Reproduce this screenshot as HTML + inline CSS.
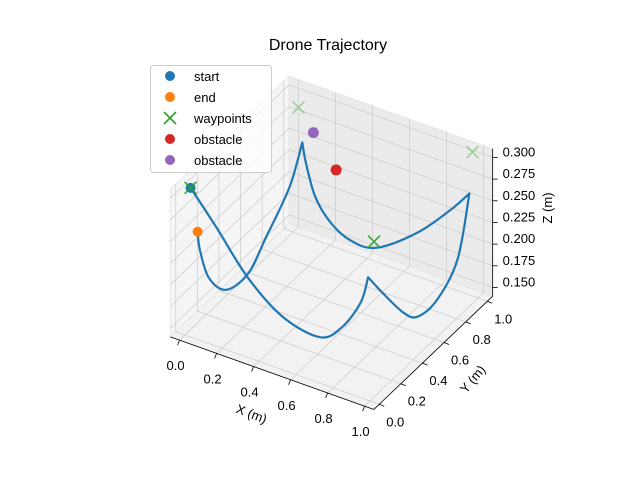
<!DOCTYPE html>
<html><head><meta charset="utf-8"><style>
html,body{margin:0;padding:0;background:#fff;}
svg text{font-family:"Liberation Sans","DejaVu Sans",sans-serif;fill:#000;}
</style></head><body>
<svg id="chart" width="640" height="480" viewBox="0 0 640 480" xmlns="http://www.w3.org/2000/svg">
<text x="328" y="50" text-anchor="middle" font-size="16">Drone Trajectory</text>
<g id="panes"></g><g id="grid"></g><g id="axes"></g><g id="series"></g><g id="markers"></g>
<text x="0" y="0" font-size="13" text-anchor="middle" transform="translate(250,418) rotate(21)">X (m)</text>
<text x="0" y="0" font-size="13" text-anchor="middle" transform="translate(476,382) rotate(-50)">Y (m)</text>
<text x="0" y="0" font-size="13" text-anchor="middle" transform="translate(552,208) rotate(-90)">Z (m)</text>
<g>
<rect x="150.5" y="65.5" width="121" height="107" rx="3" fill="#fff" fill-opacity="0.8" stroke="#ccc"/>
<circle cx="170" cy="76" r="5" fill="#1f77b4"/><text x="194" y="81" font-size="13">start</text>
<circle cx="170" cy="97" r="5" fill="#ff7f0e"/><text x="194" y="102" font-size="13">end</text>
<path d="M164,112 L176,124 M176,112 L164,124" stroke="#2ca02c" stroke-width="1.6"/><text x="194" y="123" font-size="13">waypoints</text>
<circle cx="170" cy="139" r="5" fill="#d62728"/><text x="194" y="144" font-size="13">obstacle</text>
<circle cx="170" cy="160" r="5" fill="#9467bd"/><text x="194" y="165" font-size="13">obstacle</text>
</g>
</svg>
<script>
const trajX=[0.03,0.17,0.34,0.53,0.73,0.85,0.95,0.99,1,1,1,1,1,1,0.85,0.67,0.45,0.31,0.20,0.12,0.07,0.05,0.04,0.03,0.02,0,0,0.01,0.01];
const trajY=[0,0,0,0,0,0,0,0,0.12,0.31,0.44,0.62,0.81,0.92,1,1,1,1,1,1,1,1,0.9,0.7,0.55,0.38,0.22,0.12,0.1];
const trajZ=[0.312,0.277,0.232,0.201,0.193,0.214,0.250,0.282,0.250,0.205,0.185,0.183,0.207,0.270,0.230,0.190,0.156,0.154,0.167,0.190,0.225,0.247,0.207,0.172,0.147,0.147,0.180,0.225,0.248];
const wpX=[0.03,0.73,0.03,0.97];
const wpY=[0,0.5,1,1];
const wpZ=[0.312,0.244,0.286,0.306];
const obsX=[0.35,0.11];
const obsY=[0.8,1];
const obsZ=[0.262,0.263];
const xTicks=[0,0.2,0.4,0.6,0.8,1.0];
const yTicks=[0,0.2,0.4,0.6,0.8,1.0];
const zTicks=[0.15,0.175,0.2,0.225,0.25,0.275,0.3];
const zTickLabels=["0.150","0.175","0.200","0.225","0.250","0.275","0.300"];
const cuspIdx=[7,13,21];
const X0=-0.05,X1=1.05,Y0=-0.05,Y1=1.05,Z0=0.14,Z1=0.31;
function P(x,y,z){return [185+185*x+108*y, 335+66*x-103*y-867*(z-0.14)];}
const NS='http://www.w3.org/2000/svg';
function mk(tag,attrs,parent){const e=document.createElementNS(NS,tag);for(const k in attrs)e.setAttribute(k,attrs[k]);document.getElementById(parent).appendChild(e);return e;}
function poly(pts){return pts.map(p=>p[0].toFixed(1)+','+p[1].toFixed(1)).join(' ');}
let e;
e=mk('polygon',{points:poly([P(X0,Y0,Z0),P(X1,Y0,Z0),P(X1,Y1,Z0),P(X0,Y1,Z0)]),fill:'#f2f2f2',stroke:'#e6e6e6'},'panes');

e=mk('polygon',{points:poly([P(X0,Y1,Z0),P(X1,Y1,Z0),P(X1,Y1,Z1),P(X0,Y1,Z1)]),fill:'#ebebeb',stroke:'#e6e6e6'},'panes');

e=mk('polygon',{points:poly([P(X0,Y0,Z0),P(X0,Y1,Z0),P(X0,Y1,Z1),P(X0,Y0,Z1)]),fill:'#f5f5f5',stroke:'#e6e6e6'},'panes');

function gl(a,b){const l=mk('line',{x1:a[0],y1:a[1],x2:b[0],y2:b[1],stroke:'#cfcfcf','stroke-width':0.8},'grid');

}
xTicks.forEach(x=>{gl(P(x,Y0,Z0),P(x,Y1,Z0));gl(P(x,Y1,Z0),P(x,Y1,Z1));});
yTicks.forEach(y=>{gl(P(X0,y,Z0),P(X1,y,Z0));gl(P(X0,y,Z0),P(X0,y,Z1));});
zTicks.forEach(z=>{gl(P(X0,Y1,z),P(X1,Y1,z));gl(P(X0,Y0,z),P(X0,Y1,z));});
function al(a,b,n){const l=mk('line',{x1:a[0],y1:a[1],x2:b[0],y2:b[1],stroke:'#000','stroke-width':0.8},'axes');

}
al(P(X0,Y0,Z0),P(X1,Y0,Z0),'x-axis-line');
al(P(X1,Y0,Z0),P(X1,Y1,Z0),'y-axis-line');
al(P(X1,Y1,Z0),P(X1,Y1,Z1),'z-axis-line');
xTicks.forEach(x=>{const p=P(x,Y0,Z0);
al([p[0],p[1]],[p[0]-2,p[1]+5],'x-tick');
const t=mk('text',{x:p[0]-4,y:p[1]+30,'font-size':13,'text-anchor':'middle'},'axes');t.textContent=x.toFixed(1);

});
yTicks.forEach(y=>{const p=P(X1,y,Z0);
al([p[0],p[1]],[p[0]+5,p[1]+2],'y-tick');
const t=mk('text',{x:p[0]+16,y:p[1]+22,'font-size':13,'text-anchor':'middle'},'axes');t.textContent=y.toFixed(1);

});
zTicks.forEach((z,i)=>{const p=P(X1,Y1,z);
al([p[0],p[1]],[p[0]+5,p[1]],'z-tick');
const t=mk('text',{x:p[0]+10,y:p[1]-1,'font-size':13,'text-anchor':'start'},'axes');t.textContent=zTickLabels[i];

});
const pts=trajX.map((x,i)=>P(x,trajY[i],trajZ[i]));
let d='M'+pts[0][0].toFixed(1)+','+pts[0][1].toFixed(1);
for(let i=0;i<pts.length-1;i++){const p1=pts[i],p2=pts[i+1];
const c1f=cuspIdx.includes(i),c2f=cuspIdx.includes(i+1);
const p0=(c1f||i===0)?p1:pts[i-1];
const p3=(c2f||i+2>=pts.length)?p2:pts[i+2];
const c1=[p1[0]+(p2[0]-p0[0])/6,p1[1]+(p2[1]-p0[1])/6];
const c2=[p2[0]-(p3[0]-p1[0])/6,p2[1]-(p3[1]-p1[1])/6];
d+=' C'+c1[0].toFixed(1)+','+c1[1].toFixed(1)+' '+c2[0].toFixed(1)+','+c2[1].toFixed(1)+' '+p2[0].toFixed(1)+','+p2[1].toFixed(1);}
const path=mk('path',{d:d,fill:'none',stroke:'#1f77b4','stroke-width':2.2,'stroke-linejoin':'round'},'series');


const s=pts[0],en=pts[pts.length-1];
let c=mk('circle',{cx:s[0],cy:s[1],r:5,fill:'#1f77b4'},'markers');


c=mk('circle',{cx:en[0],cy:en[1],r:5,fill:'#ff7f0e'},'markers');


wpX.forEach((x,i)=>{const p=P(x,wpY[i],wpZ[i]);const op=wpY[i]>0.9?0.4:0.9;
const m=mk('path',{d:`M${p[0]-6},${p[1]-6} L${p[0]+6},${p[1]+6} M${p[0]+6},${p[1]-6} L${p[0]-6},${p[1]+6}`,stroke:'#2ca02c','stroke-width':1.6,'stroke-opacity':op},'markers');

});
const oc=['#d62728','#9467bd'];
obsX.forEach((x,i)=>{const p=P(x,obsY[i],obsZ[i]);
const m=mk('circle',{cx:p[0],cy:p[1],r:5.5,fill:oc[i]},'markers');

});
</script>
</body></html>
